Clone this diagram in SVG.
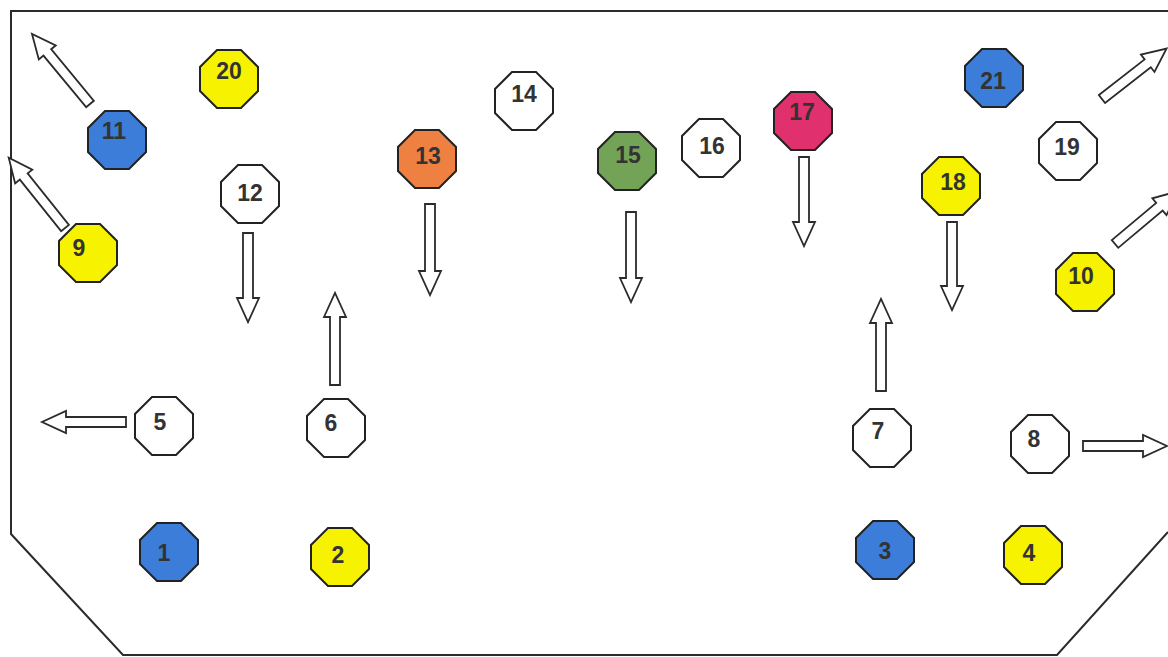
<svg xmlns="http://www.w3.org/2000/svg" xmlns:xlink="http://www.w3.org/1999/xlink" width="1168" height="657" viewBox="0 0 1168 657">
<style>
.bg{fill:#ffffff}
.outline{fill:none;stroke:#2b2b2b;stroke-width:2}
.oct{stroke:#222;stroke-width:2}
.y{fill:#f7f200}
.b{fill:#3b7dd8}
.w{fill:#ffffff}
.o{fill:#ee8042}
.g{fill:#73a356}
.m{fill:#e0306e}
.lbl{font-family:"Liberation Sans",Arial,sans-serif;font-weight:bold;font-size:23px;fill:#333;text-anchor:middle}
.arr{fill:#ffffff;stroke:#2b2b2b;stroke-width:1.8;stroke-linejoin:miter}
</style>
<defs>
<polygon id="oct" points="-12,-29 12,-29 29,-12 29,12 12,29 -12,29 -29,12 -29,-12"/>
</defs>
<rect class="bg" x="0" y="0" width="1168" height="657"/>
<path class="outline" d="M1168,11 H11 V534 L123,655 H1057 L1168,532"/>
<g id="connectors">
<path class="arr" transform="translate(90,104) rotate(-129.6)" d="M0,-5 H67 V-11 L91,0 L67,11 V5 H0 Z"/>
<path class="arr" transform="translate(65,228) rotate(-128.7)" d="M0,-5 H66 V-11 L90,0 L66,11 V5 H0 Z"/>
<path class="arr" transform="translate(248,233) rotate(90)" d="M0,-5 H65 V-11 L89,0 L65,11 V5 H0 Z"/>
<path class="arr" transform="translate(335,385) rotate(-90)" d="M0,-5 H68 V-11 L92,0 L68,11 V5 H0 Z"/>
<path class="arr" transform="translate(430,204) rotate(90)" d="M0,-5 H67 V-11 L91,0 L67,11 V5 H0 Z"/>
<path class="arr" transform="translate(631,212) rotate(90)" d="M0,-5 H66 V-11 L90,0 L66,11 V5 H0 Z"/>
<path class="arr" transform="translate(804,157) rotate(90)" d="M0,-5 H65 V-11 L89,0 L65,11 V5 H0 Z"/>
<path class="arr" transform="translate(952,222) rotate(90)" d="M0,-5 H64 V-11 L88,0 L64,11 V5 H0 Z"/>
<path class="arr" transform="translate(881,391) rotate(-90)" d="M0,-5 H68 V-11 L92,0 L68,11 V5 H0 Z"/>
<path class="arr" transform="translate(1102,99) rotate(-38)" d="M0,-5 H58 V-11 L82,0 L58,11 V5 H0 Z"/>
<path class="arr" transform="translate(1115,244) rotate(-40)" d="M0,-5 H58 V-11 L82,0 L58,11 V5 H0 Z"/>
<path class="arr" transform="translate(126,422) rotate(180)" d="M0,-5 H60 V-11 L84,0 L60,11 V5 H0 Z"/>
<path class="arr" transform="translate(1083,446)" d="M0,-5 H60 V-11 L84,0 L60,11 V5 H0 Z"/>
</g>
<g id="n1"><use href="#oct" class="oct b" x="169" y="552"/><text class="lbl" x="164" y="561">1</text></g>
<g id="n2"><use href="#oct" class="oct y" x="340" y="557"/><text class="lbl" x="338" y="563">2</text></g>
<g id="n3"><use href="#oct" class="oct b" x="885" y="550"/><text class="lbl" x="885" y="559">3</text></g>
<g id="n4"><use href="#oct" class="oct y" x="1033" y="555"/><text class="lbl" x="1029" y="561">4</text></g>
<g id="n5"><use href="#oct" class="oct w" x="164" y="426"/><text class="lbl" x="160" y="430">5</text></g>
<g id="n6"><use href="#oct" class="oct w" x="336" y="428"/><text class="lbl" x="331" y="431">6</text></g>
<g id="n7"><use href="#oct" class="oct w" x="882" y="438"/><text class="lbl" x="878" y="439">7</text></g>
<g id="n8"><use href="#oct" class="oct w" x="1040" y="444"/><text class="lbl" x="1034" y="447">8</text></g>
<g id="n9"><use href="#oct" class="oct y" x="88" y="253"/><text class="lbl" x="79" y="256">9</text></g>
<g id="n10"><use href="#oct" class="oct y" x="1085" y="282"/><text class="lbl" x="1081" y="284">10</text></g>
<g id="n11"><use href="#oct" class="oct b" x="117" y="140"/><text class="lbl" x="114" y="139">11</text></g>
<g id="n12"><use href="#oct" class="oct w" x="250" y="194"/><text class="lbl" x="250" y="201">12</text></g>
<g id="n13"><use href="#oct" class="oct o" x="427" y="159"/><text class="lbl" x="428" y="164">13</text></g>
<g id="n14"><use href="#oct" class="oct w" x="524" y="101"/><text class="lbl" x="524" y="102">14</text></g>
<g id="n15"><use href="#oct" class="oct g" x="627" y="161"/><text class="lbl" x="628" y="163">15</text></g>
<g id="n16"><use href="#oct" class="oct w" x="711" y="148"/><text class="lbl" x="712" y="154">16</text></g>
<g id="n17"><use href="#oct" class="oct m" x="803" y="121"/><text class="lbl" x="802" y="120">17</text></g>
<g id="n18"><use href="#oct" class="oct y" x="951" y="186"/><text class="lbl" x="953" y="190">18</text></g>
<g id="n19"><use href="#oct" class="oct w" x="1068" y="151"/><text class="lbl" x="1067" y="155">19</text></g>
<g id="n20"><use href="#oct" class="oct y" x="229" y="79"/><text class="lbl" x="229" y="79">20</text></g>
<g id="n21"><use href="#oct" class="oct b" x="994" y="78"/><text class="lbl" x="993" y="89">21</text></g>
</svg>
